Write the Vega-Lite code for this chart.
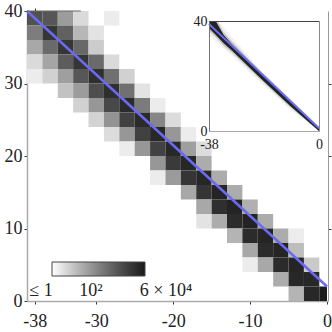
{"$schema":"https://vega.github.io/schema/vega-lite/v6.json","width":301,"height":290,"autosize":{"type":"none"},"padding":{"left":27,"top":11,"right":4,"bottom":31},"background":"white","config":{"view":{"stroke":null},"axis":{"labelFont":"Liberation Serif","labelColor":"#222","grid":false,"title":null,"labelFontSize":18,"tickSize":3,"tickColor":"#333"},"legend":{"labelFont":"Liberation Serif"}},
"datasets":{"cells":[
{"x0":-39,"x1":-37,"y0":38,"y1":40,"count":2767},{"x0":-37,"x1":-35,"y0":38,"y1":40,"count":2176},{"x0":-35,"x1":-33,"y0":38,"y1":40,"count":75},{"x0":-33,"x1":-31,"y0":38,"y1":40,"count":4.9},{"x0":-29,"x1":-27,"y0":38,"y1":40,"count":2.2},
{"x0":-39,"x1":-37,"y0":36,"y1":38,"count":318},{"x0":-37,"x1":-35,"y0":36,"y1":38,"count":11700},{"x0":-35,"x1":-33,"y0":36,"y1":38,"count":1282},{"x0":-33,"x1":-31,"y0":36,"y1":38,"count":22.7},{"x0":-31,"x1":-29,"y0":36,"y1":38,"count":3.3},
{"x0":-39,"x1":-37,"y0":34,"y1":36,"count":44.5},{"x0":-37,"x1":-35,"y0":34,"y1":36,"count":794},{"x0":-35,"x1":-33,"y0":34,"y1":36,"count":11700},{"x0":-33,"x1":-31,"y0":34,"y1":36,"count":873},{"x0":-31,"x1":-29,"y0":34,"y1":36,"count":8.7},
{"x0":-39,"x1":-37,"y0":32,"y1":34,"count":4.9},{"x0":-37,"x1":-35,"y0":32,"y1":34,"count":51},{"x0":-35,"x1":-33,"y0":32,"y1":34,"count":1632},{"x0":-33,"x1":-31,"y0":32,"y1":34,"count":12880},{"x0":-31,"x1":-29,"y0":32,"y1":34,"count":794},{"x0":-29,"x1":-27,"y0":32,"y1":34,"count":4.9},
{"x0":-39,"x1":-37,"y0":30,"y1":32,"count":2.2},{"x0":-37,"x1":-35,"y0":30,"y1":32,"count":7.2},{"x0":-35,"x1":-33,"y0":30,"y1":32,"count":65},{"x0":-33,"x1":-31,"y0":30,"y1":32,"count":2075},{"x0":-31,"x1":-29,"y0":30,"y1":32,"count":18000},{"x0":-29,"x1":-27,"y0":30,"y1":32,"count":595},{"x0":-27,"x1":-25,"y0":30,"y1":32,"count":7.2},
{"x0":-35,"x1":-33,"y0":28,"y1":30,"count":13.4},{"x0":-33,"x1":-31,"y0":28,"y1":30,"count":75},{"x0":-31,"x1":-29,"y0":28,"y1":30,"count":3352},{"x0":-29,"x1":-27,"y0":28,"y1":30,"count":18000},{"x0":-27,"x1":-25,"y0":28,"y1":30,"count":595},{"x0":-25,"x1":-23,"y0":28,"y1":30,"count":3.3},
{"x0":-33,"x1":-31,"y0":26,"y1":28,"count":7.2},{"x0":-31,"x1":-29,"y0":26,"y1":28,"count":96},{"x0":-29,"x1":-27,"y0":26,"y1":28,"count":4470},{"x0":-27,"x1":-25,"y0":26,"y1":28,"count":21800},{"x0":-25,"x1":-23,"y0":26,"y1":28,"count":351},{"x0":-23,"x1":-21,"y0":26,"y1":28,"count":2.2},
{"x0":-31,"x1":-29,"y0":24,"y1":26,"count":6.5},{"x0":-29,"x1":-27,"y0":24,"y1":26,"count":116},{"x0":-27,"x1":-25,"y0":24,"y1":26,"count":6560},{"x0":-25,"x1":-23,"y0":24,"y1":26,"count":21800},{"x0":-23,"x1":-21,"y0":24,"y1":26,"count":207},{"x0":-21,"x1":-19,"y0":24,"y1":26,"count":4.4},
{"x0":-29,"x1":-27,"y0":22,"y1":24,"count":4.4},{"x0":-27,"x1":-25,"y0":22,"y1":24,"count":96},{"x0":-25,"x1":-23,"y0":22,"y1":24,"count":6560},{"x0":-23,"x1":-21,"y0":22,"y1":24,"count":26400},{"x0":-21,"x1":-19,"y0":22,"y1":24,"count":96},{"x0":-19,"x1":-17,"y0":22,"y1":24,"count":2.2},
{"x0":-27,"x1":-25,"y0":20,"y1":22,"count":2.2},{"x0":-25,"x1":-23,"y0":20,"y1":22,"count":96},{"x0":-23,"x1":-21,"y0":20,"y1":22,"count":6560},{"x0":-21,"x1":-19,"y0":20,"y1":22,"count":26400},{"x0":-19,"x1":-17,"y0":20,"y1":22,"count":65},{"x0":-17,"x1":-15,"y0":20,"y1":22,"count":4.4},
{"x0":-23,"x1":-21,"y0":18,"y1":20,"count":96},{"x0":-21,"x1":-19,"y0":18,"y1":20,"count":9640},{"x0":-19,"x1":-17,"y0":18,"y1":20,"count":27700},{"x0":-17,"x1":-15,"y0":18,"y1":20,"count":36.7},
{"x0":-23,"x1":-21,"y0":16,"y1":18,"count":2.2},{"x0":-21,"x1":-19,"y0":16,"y1":18,"count":79},{"x0":-19,"x1":-17,"y0":16,"y1":18,"count":12880},{"x0":-17,"x1":-15,"y0":16,"y1":18,"count":27700},{"x0":-15,"x1":-13,"y0":16,"y1":18,"count":36.7},
{"x0":-19,"x1":-17,"y0":14,"y1":16,"count":44.5},{"x0":-17,"x1":-15,"y0":14,"y1":16,"count":12880},{"x0":-15,"x1":-13,"y0":14,"y1":16,"count":33600},{"x0":-13,"x1":-11,"y0":14,"y1":16,"count":36.7},
{"x0":-17,"x1":-15,"y0":12,"y1":14,"count":44.5},{"x0":-15,"x1":-13,"y0":12,"y1":14,"count":18000},{"x0":-13,"x1":-11,"y0":12,"y1":14,"count":33600},{"x0":-11,"x1":-9,"y0":12,"y1":14,"count":30},
{"x0":-17,"x1":-15,"y0":10,"y1":12,"count":3.3},{"x0":-15,"x1":-13,"y0":10,"y1":12,"count":36.7},{"x0":-13,"x1":-11,"y0":10,"y1":12,"count":21800},{"x0":-11,"x1":-9,"y0":10,"y1":12,"count":33600},{"x0":-9,"x1":-7,"y0":10,"y1":12,"count":36.7},
{"x0":-13,"x1":-11,"y0":8,"y1":10,"count":26},{"x0":-11,"x1":-9,"y0":8,"y1":10,"count":21800},{"x0":-9,"x1":-7,"y0":8,"y1":10,"count":30500},{"x0":-7,"x1":-5,"y0":8,"y1":10,"count":36.7},{"x0":-5,"x1":-3,"y0":8,"y1":10,"count":2.2},
{"x0":-11,"x1":-9,"y0":6,"y1":8,"count":44.5},{"x0":-9,"x1":-7,"y0":6,"y1":8,"count":21800},{"x0":-7,"x1":-5,"y0":6,"y1":8,"count":30500},{"x0":-5,"x1":-3,"y0":6,"y1":8,"count":17},
{"x0":-11,"x1":-9,"y0":4,"y1":6,"count":2.2},{"x0":-9,"x1":-7,"y0":4,"y1":6,"count":44.5},{"x0":-7,"x1":-5,"y0":4,"y1":6,"count":21800},{"x0":-5,"x1":-3,"y0":4,"y1":6,"count":30500},{"x0":-3,"x1":-1,"y0":4,"y1":6,"count":9.6},
{"x0":-7,"x1":-5,"y0":2,"y1":4,"count":36.7},{"x0":-5,"x1":-3,"y0":2,"y1":4,"count":26400},{"x0":-3,"x1":-1,"y0":2,"y1":4,"count":26400},
{"x0":-5,"x1":-3,"y0":0,"y1":2,"count":26},{"x0":-3,"x1":-1,"y0":0,"y1":2,"count":26400},{"x0":-1,"x1":0,"y0":0,"y1":2,"count":54300}],
"mainLine":[{"x":-39,"y":40},{"x":0,"y":2}],
"topEdge":[{"x":-39,"x2":-32,"y":40}],
"outerBand":[{"x":-38,"lo":35,"hi":40},{"x":-34,"lo":31,"hi":39},{"x":-30,"lo":27.5,"hi":34},{"x":-20,"lo":17.5,"hi":22},{"x":-10,"lo":8,"hi":12},{"x":0,"lo":0,"hi":1.5}],
"midBand":[{"x":-38,"lo":36.5,"hi":40},{"x":-35,"lo":33.5,"hi":40},{"x":-33,"lo":31,"hi":36},{"x":-30,"lo":28.5,"hi":32.5},{"x":-20,"lo":18.5,"hi":21.5},{"x":-10,"lo":8.7,"hi":11.5},{"x":0,"lo":0,"hi":1.3}],
"coreBand":[{"x":-38,"lo":37.5,"hi":40},{"x":-35.7,"lo":35,"hi":40},{"x":-33,"lo":32,"hi":35},{"x":-30,"lo":29.2,"hi":31.5},{"x":-20,"lo":19,"hi":20.9},{"x":-10,"lo":9.2,"hi":11},{"x":0,"lo":0,"hi":1}],
"insetLine":[{"x":-38,"y":38.9},{"x":0,"y":1}]},
"layer":[
{"data":{"name":"cells"},"mark":{"type":"rect"},"encoding":{
"x":{"field":"x0","type":"quantitative","scale":{"domain":[-39,0.13],"range":[0,301],"nice":false,"zero":false},"axis":{"values":[-38,-30,-20,-10,0],"labelPadding":8,"labelFlush":false,"domainColor":"#aaa","domainWidth":1.5,"labelExpr":"''+datum.value"}},
"x2":{"field":"x1"},
"y":{"field":"y0","type":"quantitative","scale":{"domain":[0,40],"range":[290,0],"nice":false,"zero":false},"axis":{"values":[0,10,20,30,40],"labelPadding":2,"domainColor":"#aaa","domainWidth":1.5}},
"y2":{"field":"y1"},
"color":{"field":"count","type":"quantitative","scale":{"type":"log","domain":[1,60000],"range":["#ffffff","#1a1a1a"],"clamp":true},"legend":{"orient":"none","legendX":25,"legendY":251,"direction":"horizontal","title":null,"gradientLength":93,"gradientThickness":14,"gradientStrokeColor":"#444","gradientStrokeWidth":1,"values":[1,100,60000],"labelFontSize":18,"labelColor":"#222","labelOffset":6,"labelOverlap":false,"labelExpr":"datum.value==1?'≤ 1':datum.value==100?'10²':'6 × 10⁴'","encoding":{"labels":{"align":{"value":"center"},"dx":{"value":{"expr":"datum.value==1?-11:datum.value==100?0:21"}}}}}}}},
{"data":{"name":"mainLine"},"mark":{"type":"line","color":"#6b6bf2","strokeWidth":2.5},"encoding":{
"x":{"field":"x","type":"quantitative","scale":{"domain":[-39,0.13],"range":[0,301],"nice":false,"zero":false},"axis":null},
"y":{"field":"y","type":"quantitative","scale":{"domain":[0,40],"range":[290,0],"nice":false,"zero":false},"axis":null}}},
{"data":{"name":"topEdge"},"mark":{"type":"rule","color":"#666","strokeWidth":1},"encoding":{
"x":{"field":"x","type":"quantitative","scale":{"domain":[-39,0.13],"range":[0,301],"nice":false,"zero":false},"axis":{"orient":"top","values":[-38],"labels":false,"domain":false}},
"x2":{"field":"x2"},
"y":{"field":"y","type":"quantitative","scale":{"domain":[0,40],"range":[290,0],"nice":false,"zero":false},"axis":{"orient":"right","values":[10,20,30],"labels":false,"domainColor":"#999","domainWidth":1}}}},
{"data":{"name":"outerBand"},"mark":{"type":"area","color":"#f0f0f0"},"encoding":{
"x":{"field":"x","type":"quantitative","scale":{"domain":[-38,0],"range":[182,292],"nice":false,"zero":false},"axis":{"orient":"bottom","offset":-170,"zindex":1,"values":[-38,0],"ticks":false,"labelFontSize":14,"labelPadding":6,"labelFlush":false,"domainColor":"#aaa","domainWidth":1,"labelExpr":"''+datum.value"}},
"y":{"field":"lo","type":"quantitative","scale":{"domain":[0,40],"range":[120,10],"nice":false,"zero":false},"axis":{"orient":"left","offset":-182,"zindex":1,"values":[0,40],"ticks":false,"labelFontSize":14,"labelPadding":2,"domainColor":"#777","domainWidth":1}},
"y2":{"field":"hi"}}},
{"data":{"name":"midBand"},"mark":{"type":"area","color":"#c4c4c4"},"encoding":{
"x":{"field":"x","type":"quantitative","scale":{"domain":[-38,0],"range":[182,292],"nice":false,"zero":false},"axis":null},
"y":{"field":"lo","type":"quantitative","scale":{"domain":[0,40],"range":[120,10],"nice":false,"zero":false},"axis":null},
"y2":{"field":"hi"}}},
{"data":{"name":"coreBand"},"mark":{"type":"area","color":"#222222"},"encoding":{
"x":{"field":"x","type":"quantitative","scale":{"domain":[-38,0],"range":[182,292],"nice":false,"zero":false},"axis":null},
"y":{"field":"lo","type":"quantitative","scale":{"domain":[0,40],"range":[120,10],"nice":false,"zero":false},"axis":null},
"y2":{"field":"hi"}}},
{"data":{"name":"insetLine"},"mark":{"type":"line","color":"#6b6bf2","strokeWidth":2},"encoding":{
"x":{"field":"x","type":"quantitative","scale":{"domain":[-38,0],"range":[182,292],"nice":false,"zero":false},"axis":{"orient":"top","offset":-10,"zindex":1,"values":[],"labels":false,"ticks":false,"domainColor":"#444","domainWidth":1}},
"y":{"field":"y","type":"quantitative","scale":{"domain":[0,40],"range":[120,10],"nice":false,"zero":false},"axis":{"orient":"right","offset":-9,"zindex":1,"values":[],"labels":false,"ticks":false,"domainColor":"#888","domainWidth":1}}}}
],
"resolve":{"scale":{"x":"independent","y":"independent","color":"independent"},"axis":{"x":"independent","y":"independent"}}}
